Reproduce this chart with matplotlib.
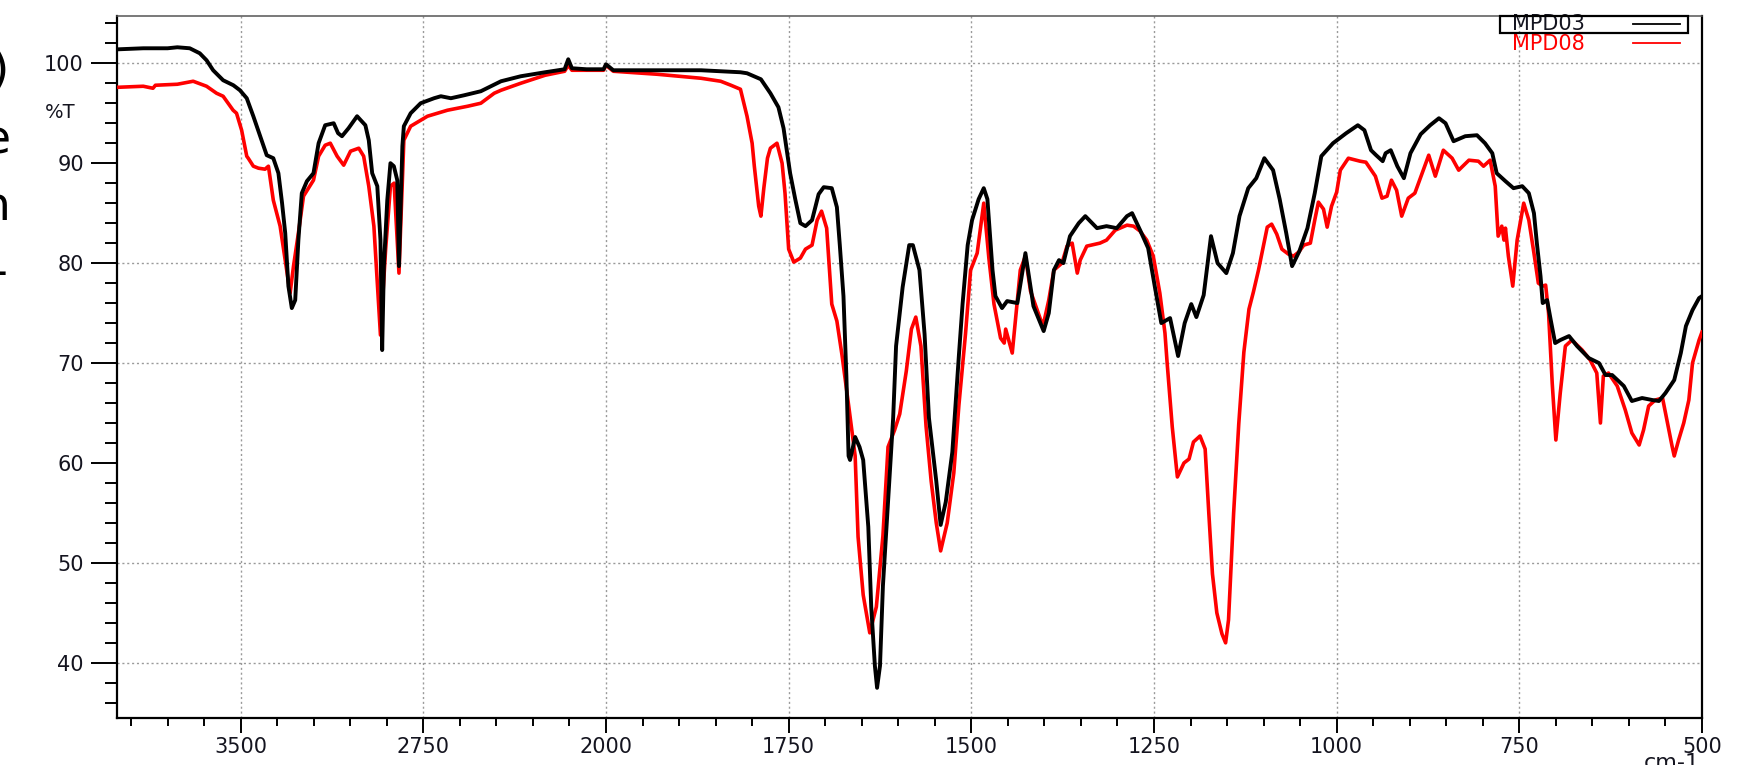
import numpy as np
import matplotlib
matplotlib.use("Agg")
import matplotlib.pyplot as plt
from matplotlib.patches import Rectangle
from matplotlib.lines import Line2D
from matplotlib.ticker import FixedLocator, NullFormatter

# ---- FTIR spectra: wavenumber (cm-1) and transmittance (%T) ----
wn_mpd03 = [4000, 3900, 3800, 3760, 3709, 3668, 3640, 3613, 3572, 3530, 3503, 3475, 3448, 3420,
            3393, 3366, 3345, 3330, 3317, 3304, 3290, 3276, 3263, 3249, 3228, 3201, 3180, 3153,
            3118, 3100, 3084, 3057, 3022, 2988, 2974, 2960, 2939, 2926, 2919, 2912, 2898, 2885,
            2871, 2857, 2850, 2836, 2830, 2802, 2761, 2706, 2678, 2637, 2582, 2514, 2472, 2431,
            2350, 2250, 2170, 2155, 2140, 2080, 2010, 2000, 1990, 1930, 1870, 1843, 1816, 1807,
            1788, 1775, 1764, 1757, 1748, 1741, 1734, 1727, 1718, 1709, 1702, 1691, 1684, 1680,
            1675, 1671, 1668, 1666, 1659, 1653, 1648, 1641, 1637, 1632, 1629, 1625, 1621, 1614,
            1607, 1603, 1594, 1585, 1580, 1571, 1564, 1558, 1548, 1542, 1535, 1526, 1517, 1512,
            1505, 1499, 1490, 1483, 1478, 1471, 1467, 1458, 1451, 1437, 1426, 1415, 1401, 1394,
            1387, 1380, 1374, 1365, 1353, 1344, 1328, 1315, 1301, 1287, 1280, 1269, 1258, 1249,
            1240, 1228, 1217, 1208, 1199, 1192, 1182, 1172, 1163, 1151, 1142, 1133, 1121, 1110,
            1099, 1087, 1078, 1069, 1061, 1051, 1040, 1030, 1021, 1005, 987, 971, 962, 953, 946,
            937, 933, 926, 917, 908, 899, 885, 872, 860, 851, 840, 824, 808, 797, 787, 781, 769,
            758, 746, 737, 730, 726, 721, 718, 712, 707, 701, 694, 682, 671, 655, 641, 632, 623,
            607, 596, 582, 568, 559, 550, 538, 529, 522, 513, 504, 500]
t_mpd03 = [101.4, 101.5, 101.5, 101.6, 101.5, 101.0, 100.3, 99.3, 98.3, 97.8, 97.3, 96.5, 94.7, 92.7,
           90.8, 90.5, 89.0, 86.0, 83.0, 77.7, 75.5, 76.3, 82.3, 87.0, 88.2, 89.0, 92.0, 93.8,
           94.0, 93.0, 92.7, 93.5, 94.7, 93.8, 92.3, 89.0, 87.7, 82.3, 71.3, 79.7, 86.3, 90.0,
           89.7, 88.3, 79.7, 91.7, 93.7, 95.0, 96.0, 96.5, 96.7, 96.5, 96.8, 97.2, 97.7, 98.2,
           98.7, 99.1, 99.4, 100.4, 99.5, 99.4, 99.4, 99.9, 99.3, 99.3, 99.3, 99.2, 99.1, 99.0,
           98.4, 97.0, 95.6, 93.5, 89.0, 86.4, 84.0, 83.7, 84.3, 86.9, 87.6, 87.5, 85.6, 81.8,
           76.7, 68.7, 60.7, 60.3, 62.6, 61.6, 60.3, 53.6, 45.6, 39.7, 37.5, 39.7, 47.7, 56.1,
           64.5, 71.7, 77.6, 81.8, 81.8, 79.3, 72.9, 64.5, 58.2, 53.8, 56.1, 61.1, 70.8, 75.9,
           81.8, 84.3, 86.4, 87.5, 86.4, 79.3, 76.7, 75.5, 76.2, 76.0, 81.0, 75.7, 73.2, 75.0,
           79.3, 80.3, 80.0, 82.7, 84.0, 84.7, 83.5, 83.7, 83.5, 84.7, 85.0, 83.3, 81.5, 77.7,
           74.0, 74.5, 70.7, 74.0, 75.9, 74.6, 76.8, 82.7, 80.0, 79.0, 81.0, 84.7, 87.5, 88.5,
           90.5, 89.3, 86.4, 83.0, 79.7, 81.2, 83.5, 87.0, 90.7, 92.0, 93.0, 93.8, 93.3, 91.3, 90.8,
           90.2, 91.0, 91.3, 89.7, 88.5, 91.0, 92.9, 93.8, 94.5, 94.0, 92.2, 92.7, 92.8, 92.0, 91.0, 89.0, 88.2,
           87.5, 87.7, 87.0, 85.0, 82.0, 78.7, 76.0, 76.3, 74.3, 72.0, 72.3, 72.7, 71.7, 70.5, 70.0, 68.8, 68.8,
           67.7, 66.2, 66.5, 66.3, 66.2, 67.0, 68.3, 71.0, 73.7, 75.3, 76.5, 76.7]

wn_mpd08 = [4000, 3900, 3860, 3850, 3760, 3695, 3640, 3599, 3572, 3531, 3517, 3496, 3475, 3469,
            3448, 3427, 3400, 3386, 3366, 3338, 3317, 3297, 3283, 3263, 3242, 3201, 3180, 3153,
            3132, 3104, 3077, 3049, 3015, 2995, 2974, 2953, 2939, 2926, 2905, 2885, 2870, 2850,
            2830, 2802, 2733, 2651, 2568, 2514, 2459, 2431, 2350, 2250, 2170, 2155, 2140, 2050,
            2010, 2000, 1990, 1930, 1870, 1843, 1829, 1816, 1807, 1800, 1797, 1791, 1788, 1784,
            1779, 1775, 1766, 1759, 1755, 1750, 1743, 1734, 1727, 1718, 1711, 1705, 1698, 1691,
            1684, 1677, 1668, 1659, 1655, 1648, 1639, 1630, 1621, 1614, 1605, 1598, 1589, 1582,
            1576, 1569, 1562, 1555, 1548, 1542, 1533, 1524, 1517, 1508, 1501, 1492, 1483, 1476,
            1469, 1460, 1455, 1453, 1444, 1437, 1433, 1426, 1419, 1405, 1401, 1394, 1387, 1376,
            1369, 1362, 1355, 1351, 1342, 1324, 1315, 1303, 1287, 1278, 1269, 1260, 1251, 1242,
            1235, 1232, 1225, 1218, 1209, 1202, 1196, 1187, 1180, 1175, 1170, 1164, 1157, 1152,
            1148, 1141, 1134, 1127, 1120, 1114, 1107, 1102, 1095, 1089, 1082, 1075, 1066, 1059,
            1052, 1045, 1036, 1030, 1025, 1018, 1013, 1007, 1000, 995, 984, 968, 960, 947, 938,
            931, 925, 918, 911, 902, 893, 883, 874, 865, 854, 842, 833, 819, 806, 799, 790, 783,
            779, 774, 771, 769, 765, 759, 753, 744, 737, 730, 724, 718, 714, 710, 705, 700, 694,
            687, 678, 664, 653, 644, 639, 637, 635, 628, 616, 605, 596, 586, 580, 573, 564, 554,
            548, 541, 538, 532, 525, 518, 513, 504, 500]
t_mpd08 = [97.6, 97.7, 97.5, 97.8, 97.9, 98.2, 97.7, 97.0, 96.7, 95.3, 95.0, 93.3, 90.7, 90.5,
           89.7, 89.5, 89.4, 89.7, 86.3, 83.7, 80.3, 77.0, 79.7, 83.0, 86.7, 88.3, 90.7, 91.8,
           92.0, 90.7, 89.8, 91.2, 91.5, 90.7, 87.7, 83.7, 78.0, 72.8, 81.3, 87.7, 88.0, 79.0,
           92.3, 93.7, 94.7, 95.3, 95.7, 96.0, 97.0, 97.3, 98.0, 98.8, 99.2, 99.8, 99.3, 99.3,
           99.3, 99.8, 99.2, 98.9, 98.5, 98.2, 97.8, 97.4, 94.7, 92.0, 89.7, 85.7, 84.7, 87.5,
           90.5, 91.5, 92.0, 90.0, 87.0, 81.4, 80.1, 80.5, 81.4, 81.8, 84.3, 85.2, 83.5, 75.9,
           74.2, 70.8, 65.8, 60.7, 52.6, 46.8, 43.0, 45.6, 52.7, 61.6, 63.3, 64.9, 69.2, 73.4,
           74.6, 71.7, 63.7, 58.2, 54.0, 51.2, 54.0, 59.0, 65.8, 72.9, 79.3, 81.0, 86.0, 80.5,
           75.9, 72.5, 72.0, 73.4, 71.0, 76.3, 79.3, 80.7, 77.2, 74.3, 74.0, 76.3, 79.3, 80.0,
           81.7, 82.0, 79.0, 80.3, 81.7, 82.0, 82.3, 83.3, 83.8, 83.7, 83.2, 82.3, 80.7, 77.0,
           73.0, 70.0, 63.6, 58.6, 60.0, 60.4, 62.1, 62.7, 61.4, 55.0, 48.9, 45.0, 42.9, 42.0,
           44.3, 55.0, 63.9, 71.1, 75.4, 77.1, 79.3, 81.1, 83.6, 83.9, 82.9, 81.4, 80.9, 80.7,
           81.1, 81.8, 82.0, 84.3, 86.1, 85.4, 83.6, 85.7, 87.1, 89.3, 90.5, 90.2, 90.1, 88.7, 86.5,
           86.7, 88.3, 87.3, 84.7, 86.5, 87.0, 89.0, 90.8, 88.7, 91.3, 90.5, 89.3, 90.3, 90.2, 89.7, 90.3, 87.7,
           82.7, 83.7, 82.3, 83.5, 80.7, 77.7, 82.3, 86.0, 84.3, 81.0, 78.0, 77.7, 77.8, 75.0, 68.0, 62.3, 67.0,
           71.7, 72.3, 71.3, 70.3, 69.0, 64.0, 66.3, 68.7, 69.0, 67.7, 65.3, 63.0, 61.8, 63.3, 65.7, 66.3, 66.5,
           64.3, 61.7, 60.7, 62.3, 64.0, 66.3, 70.0, 72.3, 73.1]

series_names = ["MPD03", "MPD08"]
series_colors = ["#000000", "#ff0000"]

x_major = [3500, 2750, 2000, 1750, 1500, 1250, 1000, 750, 500]
x_minor = [3950, 3800, 3650, 3350, 3200, 3050, 2900, 2600, 2450, 2300, 2150] + \
          [v for v in range(1950, 500, -50) if v % 250 != 0]
y_major = [40, 50, 60, 70, 80, 90, 100]
y_minor = [v for v in range(36, 105, 2) if v % 10 != 0]
y_grid = [40, 50, 70, 80, 100]

# line endings of the neighbouring text block on the left margin
margin_chars = [")", "e", "n", "-"]


# wavenumber axis is compressed 3:1 above 2000 cm-1
def fwd(x):
    x = np.asarray(x, dtype=float)
    return np.where(x > 2000, 2000 + (x - 2000) / 3.0, x)


def inv(y):
    y = np.asarray(y, dtype=float)
    return np.where(y > 2000, 2000 + (y - 2000) * 3.0, y)


plt.rcParams['font.family'] = ['DejaVu Sans']
text_color = "#14141f"
fs = 15
W, H = 1737.0, 765.0

fig = plt.figure(figsize=(17.37, 7.65), dpi=100)
ax = fig.add_axes([0.06718, 0.06105, 0.91267, 0.91843])
ax.set_xscale('function', functions=(fwd, inv))
ax.set_xlim(4009, 500)
ax.set_ylim(34.45, 104.76)

# dotted grid
for v in x_major[:-1]:
    ax.axvline(v, color="#9a9a9a", lw=1.0, ls=(0, (1.5, 2.0)), zorder=1)
for v in y_grid:
    ax.axhline(v, color="#9a9a9a", lw=1.0, ls=(0, (1.5, 2.0)), zorder=1)

ax.plot(wn_mpd08, t_mpd08, color=series_colors[1], lw=2.6, zorder=3, solid_joinstyle='round')
ax.plot(wn_mpd03, t_mpd03, color=series_colors[0], lw=2.8, zorder=4, solid_joinstyle='round')

ax.xaxis.set_major_locator(FixedLocator(x_major))
ax.xaxis.set_minor_locator(FixedLocator(x_minor))
ax.xaxis.set_minor_formatter(NullFormatter())
ax.set_xticklabels([str(v) for v in x_major])
ax.yaxis.set_major_locator(FixedLocator(y_major))
ax.yaxis.set_minor_locator(FixedLocator(y_minor))
ax.set_yticklabels([str(v) for v in y_major])

ax.tick_params(axis='x', which='major', length=10.8, width=1.4, pad=2.5, labelsize=fs,
               colors='black', labelcolor=text_color)
ax.tick_params(axis='x', which='minor', length=5.8, width=1.4, colors='black')
ax.tick_params(axis='y', which='major', length=18.7, width=1.4, pad=5, labelsize=fs,
               colors='black', labelcolor=text_color)
ax.tick_params(axis='y', which='minor', length=8.6, width=1.4, colors='black')

for side in ['left', 'bottom', 'right']:
    ax.spines[side].set_linewidth(1.6)
    ax.spines[side].set_color('black')
ax.spines['top'].set_linewidth(1.1)
ax.spines['top'].set_color('#555555')

# axis annotations
fig.text(60 / W, 1 - 113 / H, "%T", ha='center', va='center', fontsize=fs - 1, color=text_color)
fig.text(1672 / W, 1 - 753 / H, "cm-1", ha='center', va='top', fontsize=fs + 1, color=text_color)

# large text running off the left edge
for ch, (xr, yb) in zip(margin_chars, [(9, 84), (11, 153), (11, 220), (8, 286)]):
    fig.text(xr / W, 1 - yb / H, ch, ha='right', va='baseline', fontsize=34, color='black')

# legend block in the top right corner
box = Rectangle((1500 / W, 1 - 33.3 / H), 188 / W, 17.6 / H, transform=fig.transFigure,
                fill=False, edgecolor='black', lw=1.6, zorder=5)
fig.patches.append(box)
fig.text(1512 / W, 1 - 24.3 / H, series_names[0], ha='left', va='center', fontsize=fs,
         color=text_color)
fig.text(1512 / W, 1 - 44.3 / H, series_names[1], ha='left', va='center', fontsize=fs,
         color=series_colors[1])
fig.add_artist(Line2D([1633 / W, 1680 / W], [1 - 24.3 / H] * 2, transform=fig.transFigure,
                      color=series_colors[0], lw=1.3))
fig.add_artist(Line2D([1633 / W, 1680 / W], [1 - 43.3 / H] * 2, transform=fig.transFigure,
                      color=series_colors[1], lw=1.3))

fig.savefig("out.png", dpi=100)
